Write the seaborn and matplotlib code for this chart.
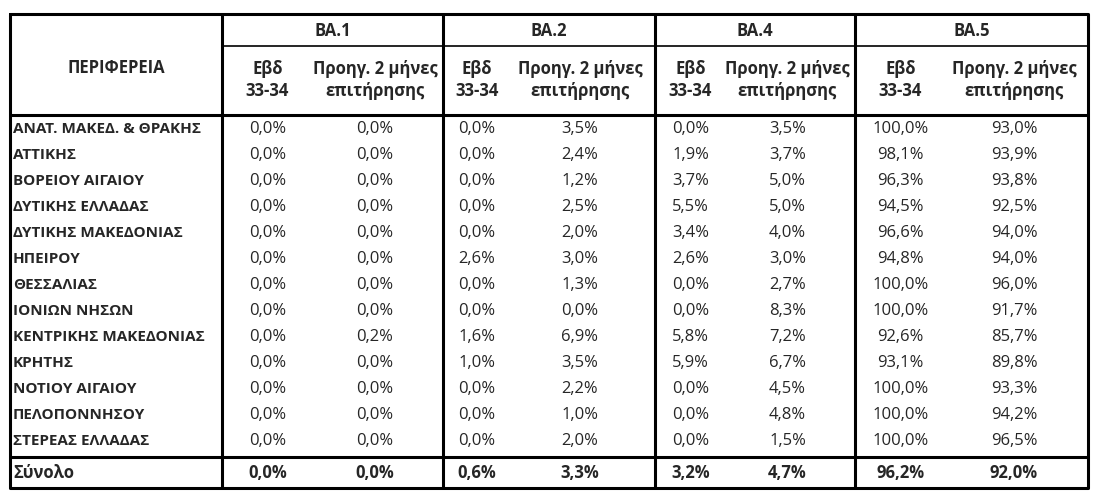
import matplotlib
matplotlib.use("Agg")
import matplotlib.pyplot as plt
import seaborn as sns

regions = ["ΑΝΑΤ. ΜΑΚΕΔ. & ΘΡΑΚΗΣ", "ΑΤΤΙΚΗΣ", "ΒΟΡΕΙΟΥ ΑΙΓΑΙΟΥ", "ΔΥΤΙΚΗΣ ΕΛΛΑΔΑΣ",
           "ΔΥΤΙΚΗΣ ΜΑΚΕΔΟΝΙΑΣ", "ΗΠΕΙΡΟΥ", "ΘΕΣΣΑΛΙΑΣ", "ΙΟΝΙΩΝ ΝΗΣΩΝ",
           "ΚΕΝΤΡΙΚΗΣ ΜΑΚΕΔΟΝΙΑΣ", "ΚΡΗΤΗΣ", "ΝΟΤΙΟΥ ΑΙΓΑΙΟΥ", "ΠΕΛΟΠΟΝΝΗΣΟΥ", "ΣΤΕΡΕΑΣ ΕΛΛΑΔΑΣ"]
groups = ["BA.1", "BA.2", "BA.4", "BA.5"]

ba1_week = [0.0] * 13
ba1_prev = [0.0, 0.0, 0.0, 0.0, 0.0, 0.0, 0.0, 0.0, 0.2, 0.0, 0.0, 0.0, 0.0]
ba2_week = [0.0, 0.0, 0.0, 0.0, 0.0, 2.6, 0.0, 0.0, 1.6, 1.0, 0.0, 0.0, 0.0]
ba2_prev = [3.5, 2.4, 1.2, 2.5, 2.0, 3.0, 1.3, 0.0, 6.9, 3.5, 2.2, 1.0, 2.0]
ba4_week = [0.0, 1.9, 3.7, 5.5, 3.4, 2.6, 0.0, 0.0, 5.8, 5.9, 0.0, 0.0, 0.0]
ba4_prev = [3.5, 3.7, 5.0, 5.0, 4.0, 3.0, 2.7, 8.3, 7.2, 6.7, 4.5, 4.8, 1.5]
ba5_week = [100.0, 98.1, 96.3, 94.5, 96.6, 94.8, 100.0, 100.0, 92.6, 93.1, 100.0, 100.0, 100.0]
ba5_prev = [93.0, 93.9, 93.8, 92.5, 94.0, 94.0, 96.0, 91.7, 85.7, 89.8, 93.3, 94.2, 96.5]
total = [0.0, 0.0, 0.6, 3.3, 3.2, 4.7, 96.2, 92.0]

columns = [ba1_week, ba1_prev, ba2_week, ba2_prev, ba4_week, ba4_prev, ba5_week, ba5_prev]

sns.set_theme(style="white")
plt.rcParams["font.family"] = "Open Sans"

fig = plt.figure(figsize=(10.99, 4.94), dpi=100)
ax = fig.add_axes([0, 0, 1, 1])
ax.set_xlim(0, 1099)
ax.set_ylim(494, 0)
ax.axis("off")

left, right, top, bottom = 10, 1088, 14, 488
group_edges = [222, 443, 655, 855, 1088]
sub_edges = [307, 505, 720, 940]
h1, h2 = 46, 115
row_h = 26.0
total_top = 457

fs = 12
lw_thick = 2.2

def fmt(v):
    return f"{v:.1f}%".replace(".", ",")

# borders
ax.plot([left, right, right, left, left], [top, top, bottom, bottom, top], color="black", lw=lw_thick)
for x in group_edges[:-1]:
    ax.plot([x, x], [top, bottom], color="black", lw=lw_thick)
ax.plot([group_edges[0], right], [h1, h1], color="black", lw=1.2)
ax.plot([left, right], [h2, h2], color="black", lw=lw_thick)
ax.plot([left, right], [total_top, total_top], color="black", lw=lw_thick)

# header
ax.text((left + group_edges[0]) / 2, 68, "ΠΕΡΙΦΕΡΕΙΑ", ha="center", va="center", fontsize=fs, fontweight="bold")
for i, g in enumerate(groups):
    a, b = group_edges[i], group_edges[i + 1]
    s = sub_edges[i]
    ax.text((a + b) / 2, 31, g, ha="center", va="center", fontsize=fs, fontweight="bold")
    ax.text((a + s) / 2 + 3, 80, "Εβδ\n33-34", ha="center", va="center", fontsize=fs,
            fontweight="bold", linespacing=1.25)
    ax.text((s + b) / 2, 80, "Προηγ. 2 μήνες\nεπιτήρησης", ha="center", va="center", fontsize=fs,
            fontweight="bold", linespacing=1.25)

# body
for r, name in enumerate(regions):
    y = h2 + 14 + r * row_h
    ax.text(left + 3, y, name, ha="left", va="center", fontsize=11, fontweight="bold")
    for c, col in enumerate(columns):
        i = c // 2
        a, b, s = group_edges[i], group_edges[i + 1], sub_edges[i]
        xc = (a + s) / 2 + 3 if c % 2 == 0 else (s + b) / 2
        ax.text(xc, y, fmt(col[r]), ha="center", va="center", fontsize=fs)

yt = (total_top + bottom) / 2
ax.text(left + 3, yt, "Σύνολο", ha="left", va="center", fontsize=fs, fontweight="bold")
for c, v in enumerate(total):
    i = c // 2
    a, b, s = group_edges[i], group_edges[i + 1], sub_edges[i]
    xc = (a + s) / 2 + 3 if c % 2 == 0 else (s + b) / 2
    ax.text(xc, yt, fmt(v), ha="center", va="center", fontsize=fs, fontweight="bold")

fig.savefig("out.png", dpi=100, facecolor="white")
